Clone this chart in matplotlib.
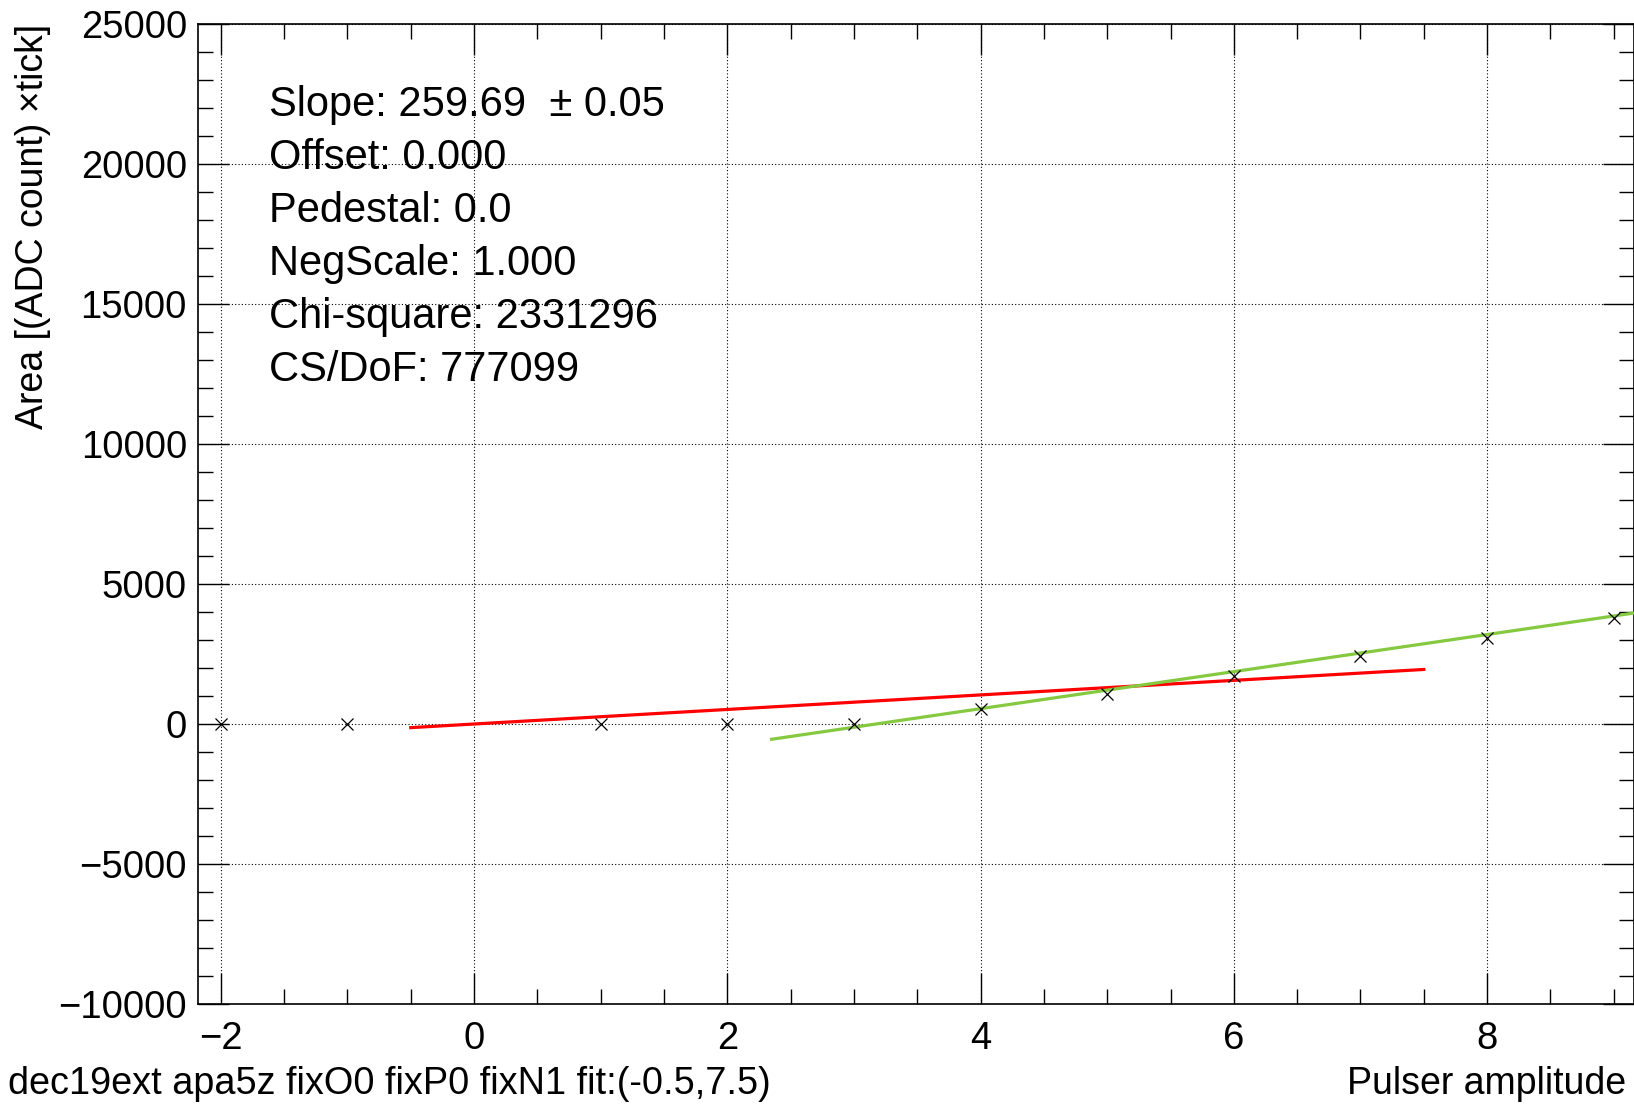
import matplotlib.pyplot as plt
from matplotlib.ticker import MultipleLocator, FuncFormatter

plt.rcParams['font.family'] = ['Liberation Sans', 'DejaVu Sans']

# measured points (pulser amplitude, area)
pulser = [-2, -1, 1, 2, 3, 4, 5, 6, 7, 8, 9]
area = [0, 0, 0, 0, 0, 530, 1080, 1700, 2420, 3080, 3780]

# fit line (red) over fit range, and the green reference line
fit_x = [-0.5, 7.5]
fit_y = [-130, 1948]
ref_x = [2.35, 9.2]
ref_y = [-545, 3990]

stats = ["Slope: 259.69  \u00b1 0.05", "Offset: 0.000", "Pedestal: 0.0",
         "NegScale: 1.000", "Chi-square: 2331296", "CS/DoF: 777099"]

W, H = 1634, 1109
fig = plt.figure(figsize=(W / 100, H / 100), dpi=100)
ax = fig.add_axes([198 / W, 1 - 1004 / H, 1 - 198 / W, (1004 - 24) / H])

ax.plot(fit_x, fit_y, color='#ff0000', lw=2.3, zorder=3)
ax.plot(ref_x, ref_y, color='#84c940', lw=2.3, zorder=3)
ax.plot(pulser, area, 'x', color='black', ms=8, mew=0.9, zorder=4)

ax.set_xlim(-2.18, 9.16)
ax.set_ylim(-10000, 25000)

ax.xaxis.set_major_locator(MultipleLocator(2))
ax.xaxis.set_minor_locator(MultipleLocator(0.5))
ax.yaxis.set_major_locator(MultipleLocator(5000))
ax.yaxis.set_minor_locator(MultipleLocator(1000))

fmt = FuncFormatter(lambda v, p: ('%d' % v).replace('-', '\u2212'))
ax.xaxis.set_major_formatter(fmt)
ax.yaxis.set_major_formatter(fmt)

ax.tick_params(which='both', direction='in', top=True, right=True, labelsize=27.5, width=1)
ax.tick_params(which='major', length=22)
ax.tick_params(which='minor', length=11)
ax.tick_params(axis='x', which='major', pad=12)
ax.tick_params(axis='y', which='major', pad=8)

ax.grid(True, which='major', linestyle=(0, (1, 2)), color='black', lw=0.8)
for s in ax.spines.values():
    s.set_linewidth(1.2)

# stats box text
for i, line in enumerate(stats):
    fig.text(269 / W, 1 - (105 + 53 * i) / H, line, fontsize=30, va='center', ha='left')

fig.text(33 / W, 1 - 24 / H, "Area [(ADC count) \u00d7tick]", fontsize=27,
         rotation=90, ha='center', va='top')
fig.text(1626 / W, 1 - 1084 / H, "Pulser amplitude", fontsize=27, ha='right', va='center')
fig.text(8 / W, 1 - 1084 / H, "dec19ext apa5z fixO0 fixP0 fixN1 fit:(-0.5,7.5)",
         fontsize=27.3, ha='left', va='center')

fig.savefig('out.png', dpi=100)
